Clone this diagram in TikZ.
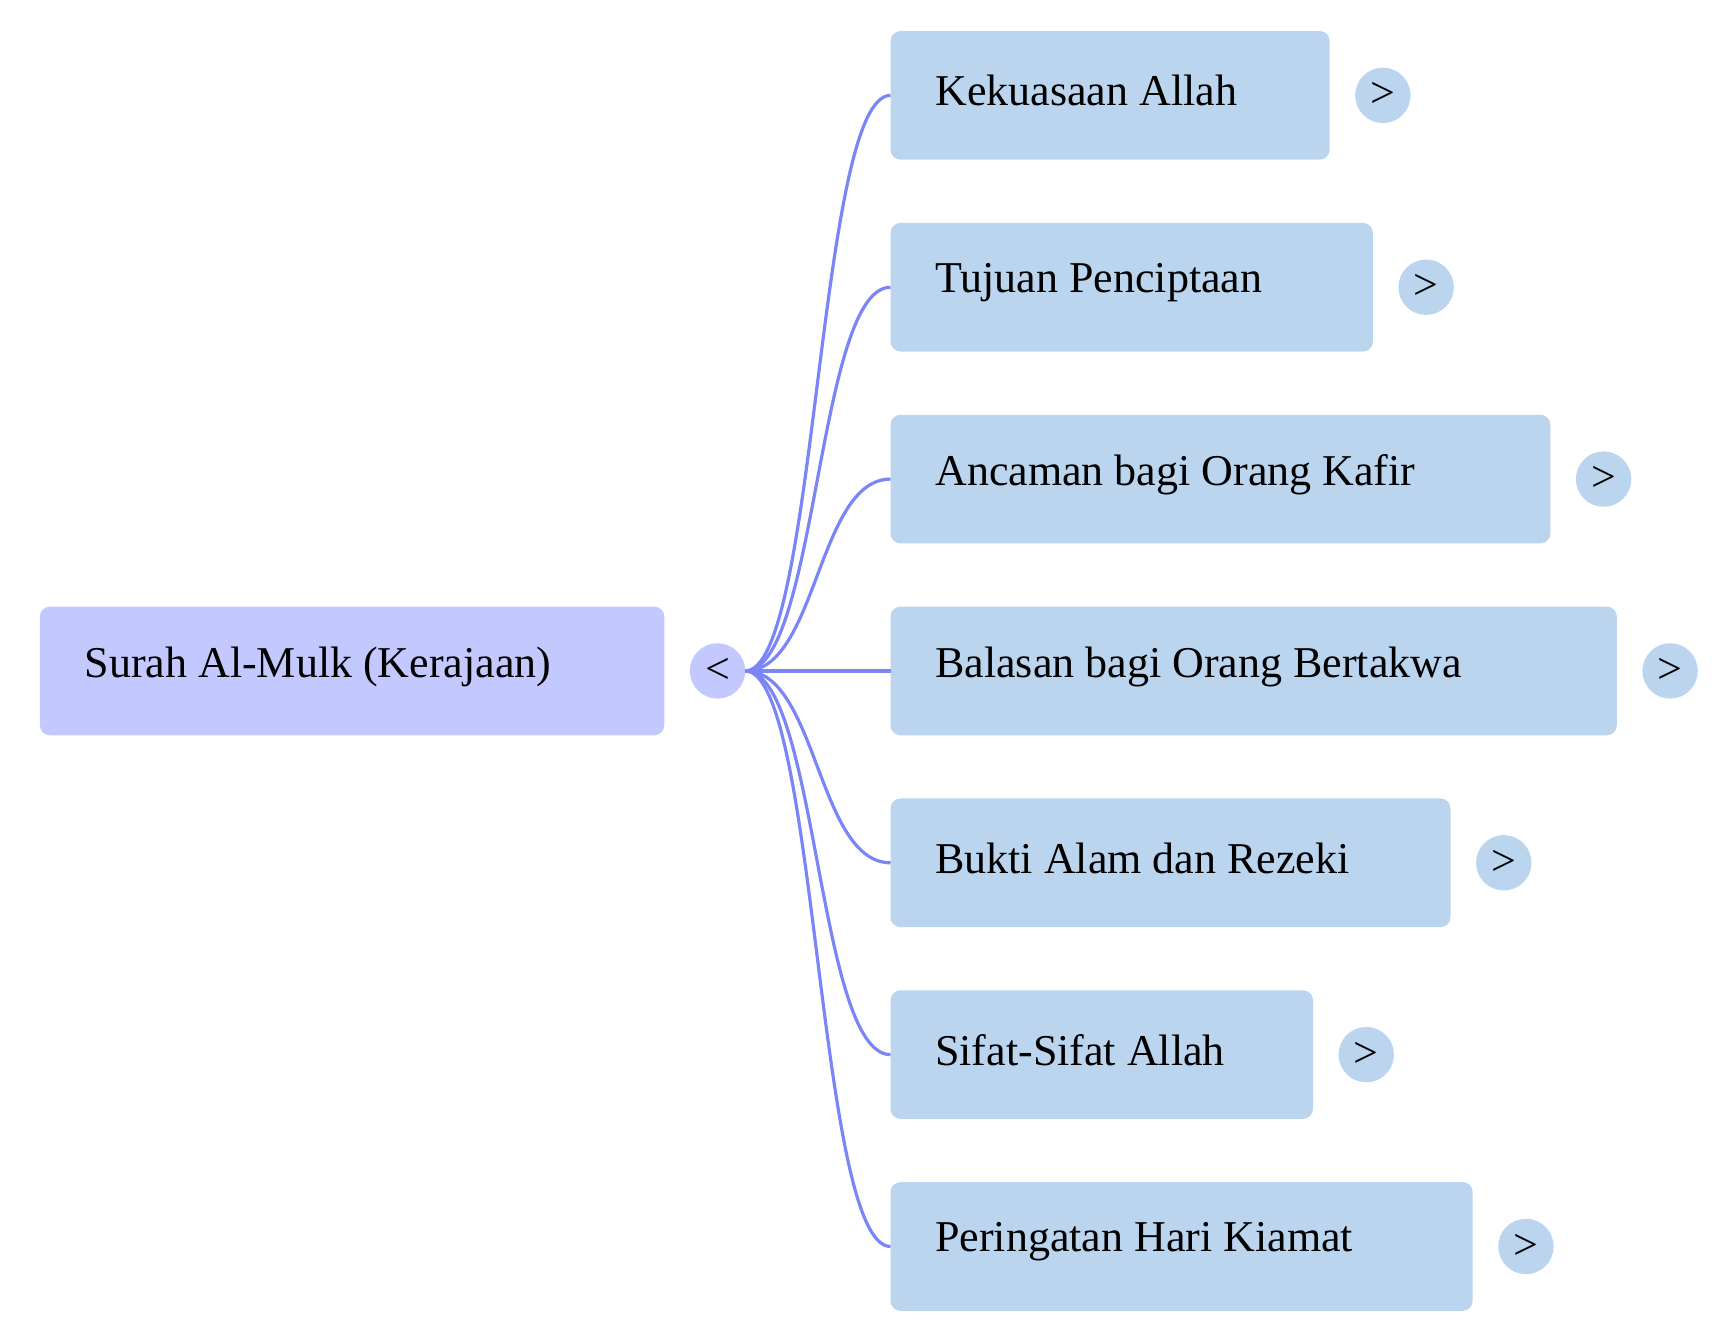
\documentclass[tikz,border=0pt]{standalone}
\usepackage{fontspec}
\setmainfont{Liberation Serif}
\begin{document}
\begin{tikzpicture}[x=0.5545pt,y=-0.5545pt,
  box/.style={fill=#1,rounded corners=5pt,draw=none},
  lbl/.style={anchor=west,font=\fontsize{22}{26}\selectfont,inner sep=0},
  circ/.style={circle,fill=#1,minimum size=27.7pt,inner sep=0,font=\fontsize{22}{26}\selectfont},
  link/.style={draw=lnk,line width=1.6pt}]
\definecolor{rootc}{HTML}{C3C9FE}
\definecolor{kid}{HTML}{BBD5EF}
\definecolor{lnk}{HTML}{7B86F6}
\useasboundingbox (0,0) rectangle (1560,1205);
\fill[box=rootc] (36,547) rectangle (599,663);
\node[lbl] (root) at (76,601) {Surah Al-Mulk (Kerajaan)};
\node[circ=rootc] (rc) at (647,605) {<};
\coordinate (rs) at (672,605);
\foreach \i/\y/\r/\t in {1/86/1199/Kekuasaan Allah,2/259/1238/Tujuan Penciptaan,3/432/1398/Ancaman bagi Orang Kafir,4/605/1458/Balasan bagi Orang Bertakwa,5/778/1308/Bukti Alam dan Rezeki,6/951/1184/Sifat-Sifat Allah,7/1124/1328/Peringatan Hari Kiamat}{
  \fill[box=kid] (803,\y-58) rectangle (\r,\y+58);
  \coordinate (k\i) at (803,\y);
  \node[lbl] (t\i) at (843,\y-4) {\t};
  \node[circ=kid] (c\i) at (\r+48,\y) {>};
  \draw[link] (rs) .. controls (737,605) and (737,\y) .. (k\i);
}
\end{tikzpicture}
\end{document}
